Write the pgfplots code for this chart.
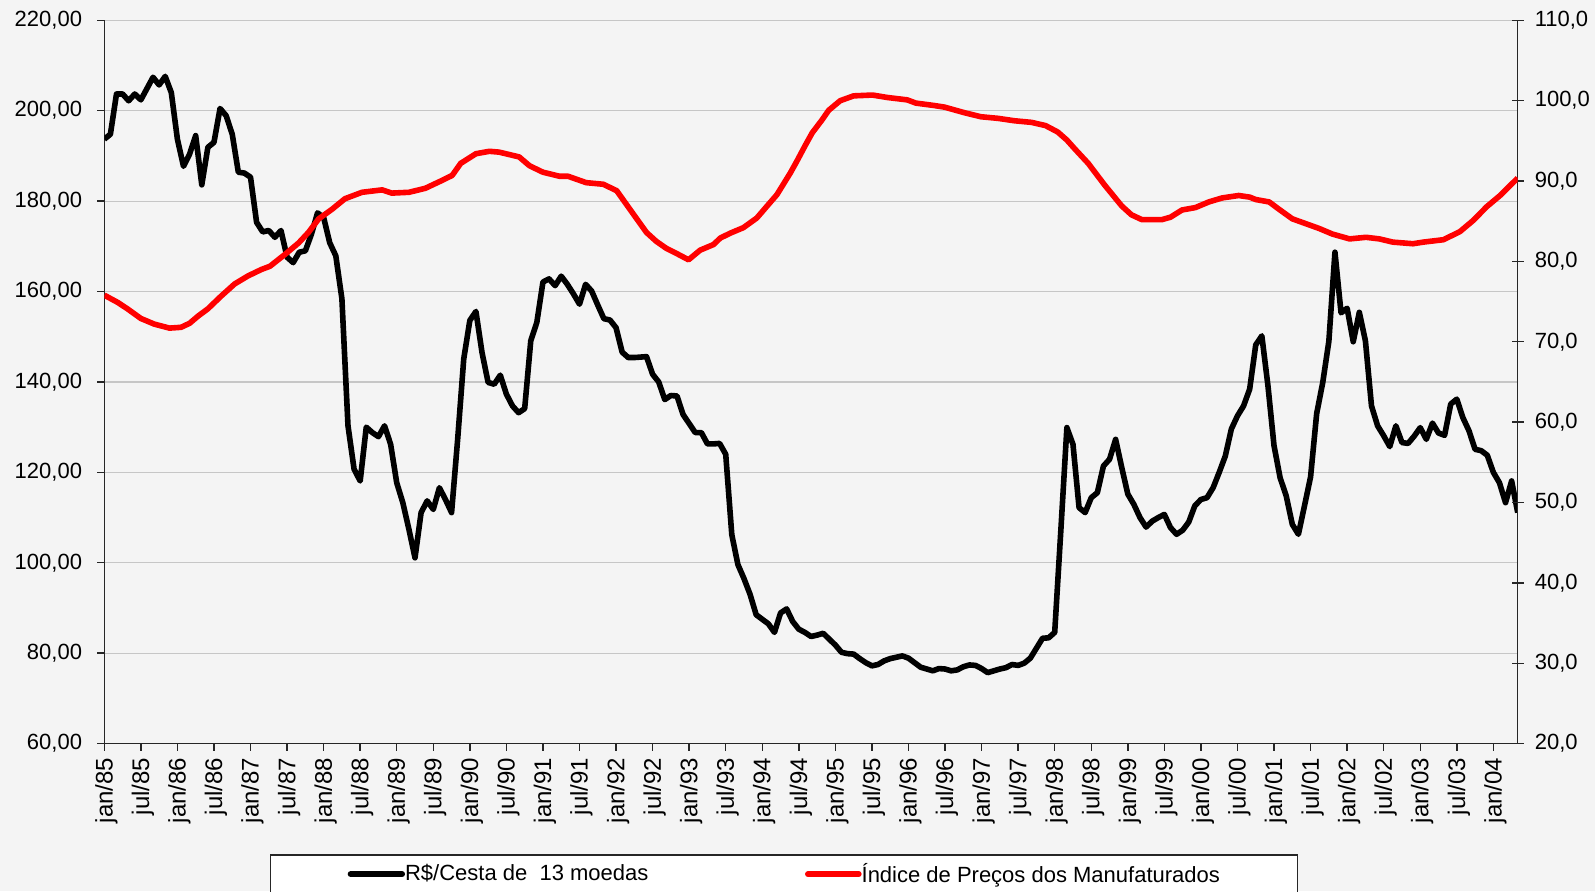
\documentclass[border=0pt]{standalone}
\usepackage{fontspec}
\setmainfont{Liberation Sans}
\usepackage{pgfplots}
\pgfplotsset{compat=1.18}
\usepackage{pgfplotstable}
\definecolor{bg}{HTML}{F4F4F4}
\definecolor{gridc}{HTML}{C6C6C6}
\definecolor{axc}{HTML}{262626}

\pgfplotstableread{
m v
0 193.7
1 194.8
2 203.7
3 203.7
4 202.2
5 203.7
6 202.4
7 204.9
8 207.4
9 205.7
10 207.6
11 204.0
12 193.7
13 187.7
14 190.4
15 194.5
16 183.6
17 191.9
18 193.0
19 200.5
20 198.9
21 194.8
22 186.4
23 186.2
24 185.3
25 175.3
26 173.2
27 173.5
28 172.0
29 173.5
30 167.6
31 166.4
32 168.7
33 169.0
34 172.7
35 177.4
36 176.4
37 170.8
38 167.9
39 158.4
40 130.3
41 120.7
42 118.1
43 130.0
44 128.8
45 127.9
46 130.3
47 126.2
48 117.7
49 113.3
50 107.4
51 101.1
52 111.1
53 113.7
54 111.8
55 116.6
56 114.0
57 111.1
58 127.3
59 145.1
60 153.6
61 155.6
62 146.5
63 139.9
64 139.5
65 141.5
66 137.3
67 134.7
68 133.2
69 134.1
70 149.1
71 153.2
72 162.1
73 162.8
74 161.3
75 163.4
76 161.6
77 159.5
78 157.2
79 161.6
80 160.1
81 157.0
82 154.0
83 153.7
84 152.0
85 146.6
86 145.4
87 145.4
88 145.5
89 145.6
90 141.7
91 140.0
92 136.1
93 137.0
94 136.9
95 132.8
96 130.8
97 128.8
98 128.8
99 126.3
100 126.3
101 126.4
102 124.0
103 106.2
104 99.6
105 96.5
106 93.0
107 88.5
108 87.5
109 86.5
110 84.6
111 88.9
112 89.8
113 87.0
114 85.3
115 84.6
116 83.7
117 84.0
118 84.4
119 83.1
120 81.8
121 80.2
122 79.9
123 79.8
124 78.8
125 77.9
126 77.2
127 77.5
128 78.3
129 78.8
130 79.1
131 79.4
132 78.9
133 77.9
134 76.9
135 76.5
136 76.1
137 76.6
138 76.5
139 76.1
140 76.3
141 77.0
142 77.4
143 77.3
144 76.6
145 75.7
146 76.1
147 76.5
148 76.8
149 77.5
150 77.3
151 77.8
152 78.9
153 81.1
154 83.3
155 83.4
156 84.6
157 107.0
158 129.9
159 126.2
160 112.2
161 111.1
162 114.4
163 115.5
164 121.4
165 122.9
166 127.3
167 121.1
168 115.2
169 112.9
170 110.0
171 107.9
172 109.2
173 110.0
174 110.7
175 107.8
176 106.3
177 107.2
178 109.0
179 112.6
180 114.0
181 114.4
182 116.6
183 120.0
184 123.6
185 129.6
186 132.5
187 134.7
188 138.4
189 148.2
190 150.2
191 139.2
192 125.9
193 118.8
194 114.8
195 108.5
196 106.3
197 112.6
198 119.0
199 133.0
200 139.9
201 149.0
202 168.7
203 155.3
204 156.3
205 148.9
206 155.4
207 149.1
208 134.7
209 130.3
210 128.1
211 125.7
212 130.3
213 126.6
214 126.4
215 128.0
216 129.9
217 127.3
218 130.9
219 128.7
220 128.2
221 135.1
222 136.2
223 132.1
224 129.2
225 125.1
226 124.8
227 123.8
228 120.0
229 117.7
230 113.3
231 118.1
232 111.1
}\blackdata

\pgfplotstableread{
m v
0 75.8
2.2 74.9
3.8 74.1
6.0 72.9
8.2 72.2
10.7 71.7
12.6 71.8
14.0 72.3
15.4 73.2
17.0 74.1
19.2 75.7
21.4 77.2
23.6 78.2
25.8 79.0
27.2 79.4
29.7 80.9
31.9 82.3
33.5 83.6
35.2 85.3
37.4 86.5
39.5 87.8
42.3 88.6
45.6 88.9
47.2 88.5
50.0 88.6
52.7 89.1
55.5 90.1
57.1 90.7
58.5 92.2
61.0 93.4
63.2 93.7
64.8 93.6
68.1 93.0
69.8 91.9
72.0 91.1
74.7 90.6
76.1 90.6
79.1 89.8
81.9 89.6
84.1 88.8
85.7 87.1
87.3 85.4
89.0 83.6
90.6 82.5
92.3 81.6
93.9 81.0
95.9 80.2
97.8 81.4
100.0 82.1
101.1 82.9
102.7 83.5
104.9 84.2
107.1 85.4
108.8 86.9
110.4 88.3
112.6 91.0
113.7 92.5
115.1 94.5
116.2 96.0
117.8 97.6
118.9 98.8
120.8 100.0
123.0 100.6
126.1 100.7
128.5 100.4
131.8 100.1
133.2 99.7
136.2 99.4
137.9 99.2
141.2 98.5
143.9 98.0
146.7 97.8
149.4 97.5
152.2 97.3
154.5 96.9
156.5 96.1
158.0 95.1
159.3 94.0
161.5 92.2
164.2 89.5
167.0 86.9
168.6 85.8
170.3 85.2
173.6 85.2
175.0 85.5
176.9 86.4
179.1 86.7
181.3 87.4
183.5 87.9
186.2 88.2
188.0 88.0
189.0 87.7
191.2 87.4
192.8 86.5
195.0 85.3
197.2 84.7
199.4 84.1
201.6 83.4
204.4 82.8
207.1 83.0
209.3 82.8
211.5 82.4
214.8 82.2
216.5 82.4
219.8 82.7
222.5 83.7
224.7 85.1
226.9 86.8
229.1 88.2
231.9 90.3
232 90.4
}\reddata

\begin{document}
\begin{tikzpicture}
\useasboundingbox (0,0) rectangle (797.5pt,445.5pt);
\fill[bg] (0,0) rectangle (797.5pt,445.5pt);
\begin{axis}[
  at={(52.15pt,73.7pt)}, anchor=south west, scale only axis,
  width=706.7pt, height=361.65pt,
  xmin=0, xmax=232, ymin=60, ymax=220,
  axis x line*=bottom, axis y line*=left,
  ytick={60,80,...,220},
  xtick={0,6,...,228},
  xticklabels={jan/85,jul/85,jan/86,jul/86,jan/87,jul/87,jan/88,jul/88,jan/89,jul/89,jan/90,jul/90,jan/91,jul/91,jan/92,jul/92,jan/93,jul/93,jan/94,jul/94,jan/95,jul/95,jan/96,jul/96,jan/97,jul/97,jan/98,jul/98,jan/99,jul/99,jan/00,jul/00,jan/01,jul/01,jan/02,jul/02,jan/03,jul/03,jan/04},
  xticklabel style={rotate=90, anchor=east, font=\fontsize{12}{14}\selectfont, yshift=-1pt},
  yticklabel style={font=\fontsize{11}{13}\selectfont, xshift=-4pt,
    /pgf/number format/fixed, /pgf/number format/fixed zerofill,
    /pgf/number format/precision=2, /pgf/number format/use comma,
    /pgf/number format/1000 sep={}},
  /pgf/number format/assume math mode=true,
  ymajorgrids, grid style={gridc, line width=0.6pt},
  tick align=outside, major tick length=3.6pt,
  axis line style={axc, line width=0.7pt},
  tick style={axc, line width=0.7pt},
]
\addplot[black, line width=2.8pt, line join=round] table[x=m,y=v]{\blackdata};
\end{axis}
\begin{axis}[
  at={(52.15pt,73.7pt)}, anchor=south west, scale only axis,
  width=706.7pt, height=361.65pt,
  xmin=0, xmax=232, ymin=20, ymax=110,
  axis x line=none, axis y line*=right,
  ytick={20,30,...,110},
  yticklabel style={font=\fontsize{11}{13}\selectfont, xshift=2pt,
    /pgf/number format/fixed, /pgf/number format/fixed zerofill,
    /pgf/number format/precision=1, /pgf/number format/use comma,
    /pgf/number format/1000 sep={}},
  /pgf/number format/assume math mode=true,
  tick align=center, major tick length=6pt,
  axis line style={axc, line width=0.7pt},
  tick style={axc, line width=0.7pt},
  legend columns=2,
  legend cell align=left,
  legend image code/.code={\draw[#1, line cap=round] (0pt,0pt) -- (25.5pt,0pt);},
  legend style={at={(0.117,-0.1533)}, anchor=north west, draw=axc, line width=0.6pt,
    fill=white, inner xsep=38.7pt, inner ysep=2pt,
    font=\fontsize{11}{13}\selectfont,
    nodes={inner xsep=0pt},
    /tikz/every even column/.append style={column sep=78.3pt}},
]
\addlegendimage{black, line width=3.2pt}
\addlegendentry{R\$/Cesta de\ \ 13 moedas}
\addplot[red, line width=2.8pt, line join=round] table[x=m,y=v]{\reddata};
\addlegendentry{Índice de Preços dos Manufaturados}
\end{axis}
\end{tikzpicture}
\end{document}
